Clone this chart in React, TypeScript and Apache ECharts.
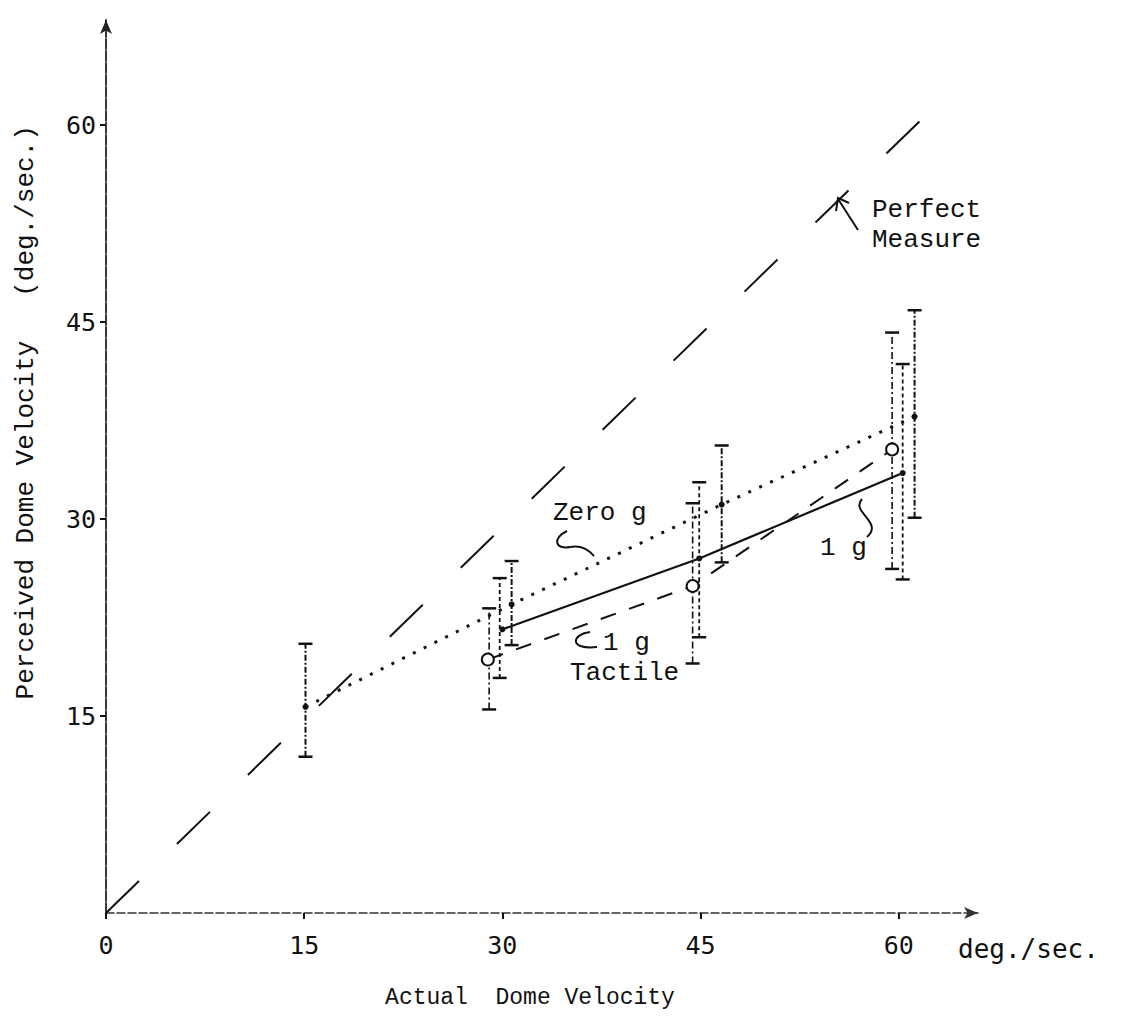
import React, { useEffect, useRef } from "react";
import * as echarts from "echarts";

// ---- data (deg./sec.) ----
const xTicks = [0, 15, 30, 45, 60];
const yTicks = [15, 30, 45, 60];

const perfectX = [0, 62];
const perfectY = [0, 60.7];

const zeroGX = [15.1, 30.7, 46.6, 61.2];
const zeroGY = [15.7, 23.5, 31.1, 37.8];
const zeroGLow = [11.9, 20.4, 26.7, 30.1];
const zeroGHigh = [20.5, 26.8, 35.6, 45.9];

const oneGX = [30.0, 44.9, 60.3];
const oneGY = [21.6, 27.0, 33.5];
const oneGBarX = [29.8, 44.9, 60.3];
const oneGLow = [17.9, 21.0, 25.4];
const oneGHigh = [25.5, 32.8, 41.8];

const tactileX = [28.9, 44.4, 59.5];
const tactileY = [19.3, 24.9, 35.3];
const tactileBarX = [29.0, 44.4, 59.5];
const tactileLow = [15.5, 19.0, 26.2];
const tactileHigh = [23.2, 31.2, 44.2];

const INK = "#111";
const TYPE_FONT = "'Liberation Mono', 'DejaVu Sans Mono', monospace";
const TICK_FONT = "'DejaVu Sans Mono', 'Liberation Mono', monospace";

function errorSeries(name: string, xs: number[], lo: number[], hi: number[], width: number, dash: number[] | null) {
  return {
    type: "custom",
    name,
    data: xs.map((x, i) => [x, lo[i], hi[i]]),
    encode: { x: 0, y: [1, 2] },
    z: 3,
    renderItem: (params: any, api: any) => {
      const x = api.value(0);
      const p1 = api.coord([x, api.value(1)]);
      const p2 = api.coord([x, api.value(2)]);
      const w = 7;
      const style: any = { stroke: INK, lineWidth: width, fill: null };
      if (dash) style.lineDash = dash;
      const cap = { stroke: INK, lineWidth: 2.5, fill: null };
      return {
        type: "group",
        children: [
          { type: "line", shape: { x1: p1[0], y1: p1[1], x2: p2[0], y2: p2[1] }, style },
          { type: "line", shape: { x1: p1[0] - w, y1: p1[1], x2: p1[0] + w, y2: p1[1] }, style: cap },
          { type: "line", shape: { x1: p2[0] - w, y1: p2[1], x2: p2[0] + w, y2: p2[1] }, style: cap },
        ],
      };
    },
  };
}

function typeText(text: string, x: number, y: number, size = 26, align = "left") {
  return {
    type: "text",
    x,
    y,
    style: { text, fill: INK, font: `${size}px ${TYPE_FONT}`, align, verticalAlign: "middle" },
  };
}

export default function App() {
  const ref = useRef<HTMLDivElement>(null);
  useEffect(() => {
    const chart = echarts.init(ref.current!, null, { renderer: "svg" });
    const option: any = {
      animation: false,
      backgroundColor: "#fff",
      grid: { left: 106, right: 143, top: 20, bottom: 122, containLabel: false },
      xAxis: {
        type: "value",
        min: 0,
        max: 66,
        interval: 15,
        splitLine: { show: false },
        axisLine: {
          show: true,
          onZero: false,
          symbol: ["none", "arrow"],
          symbolSize: [9, 14],
          lineStyle: { color: "#333", width: 1.5, type: [8, 3] },
        },
        axisTick: { show: true, length: 6, customValues: xTicks, lineStyle: { color: INK, width: 2 } },
        axisLabel: {
          customValues: xTicks,
          margin: 20,
          color: INK,
          fontFamily: TICK_FONT,
          fontSize: 25,
        },
      },
      yAxis: {
        type: "value",
        min: 0,
        max: 68,
        interval: 15,
        splitLine: { show: false },
        axisLine: {
          show: true,
          onZero: false,
          symbol: ["none", "arrow"],
          symbolSize: [9, 14],
          lineStyle: { color: "#222", width: 1.8, type: [10, 2] },
        },
        axisTick: { show: true, length: 6, customValues: yTicks, lineStyle: { color: INK, width: 2 } },
        axisLabel: {
          customValues: yTicks,
          margin: 10,
          color: INK,
          fontFamily: TICK_FONT,
          fontSize: 25,
          padding: [16, 0, 0, 0],
        },
      },
      series: [
        {
          type: "line",
          name: "Perfect Measure",
          data: perfectX.map((x, i) => [x, perfectY[i]]),
          symbol: "none",
          lineStyle: { color: INK, width: 2, type: [46, 53] },
          z: 1,
        },
        errorSeries("Zero g bars", zeroGX, zeroGLow, zeroGHigh, 2, [6, 2, 2, 2]),
        errorSeries("1 g bars", oneGBarX, oneGLow, oneGHigh, 1.8, [4, 3]),
        errorSeries("1 g Tactile bars", tactileBarX, tactileLow, tactileHigh, 1.6, [7, 3, 2, 3]),
        {
          type: "line",
          name: "Zero g",
          data: zeroGX.map((x, i) => [x, zeroGY[i]]),
          symbol: "circle",
          symbolSize: 6,
          itemStyle: { color: INK },
          lineStyle: { color: INK, width: 3, type: [3, 9] },
          z: 4,
        },
        {
          type: "line",
          name: "1 g",
          data: oneGX.map((x, i) => [x, oneGY[i]]),
          symbol: "circle",
          symbolSize: 6,
          itemStyle: { color: INK },
          lineStyle: { color: INK, width: 2.2, type: "solid" },
          z: 4,
        },
        {
          type: "line",
          name: "1 g Tactile",
          data: tactileX.map((x, i) => [x, tactileY[i]]),
          symbol: "emptyCircle",
          symbolSize: 12,
          itemStyle: { color: INK, borderWidth: 2.2 },
          lineStyle: { color: INK, width: 2, type: [16, 14] },
          z: 4,
        },
      ],
      graphic: [
        {
          type: "text",
          x: 958,
          y: 949,
          style: { text: "deg./sec.", fill: INK, font: `26px ${TICK_FONT}`, align: "left", verticalAlign: "middle" },
        },
        typeText("Actual  Dome Velocity", 530, 998, 23, "center"),
        {
          type: "text",
          x: 26,
          y: 520,
          rotation: Math.PI / 2,
          style: { text: "Perceived Dome Velocity", fill: INK, font: `26px ${TYPE_FONT}`, align: "center", verticalAlign: "middle" },
        },
        {
          type: "text",
          x: 26,
          y: 211,
          rotation: Math.PI / 2,
          style: { text: "(deg./sec.)", fill: INK, font: `26px ${TYPE_FONT}`, align: "center", verticalAlign: "middle" },
        },
        typeText("Perfect", 872, 210),
        typeText("Measure", 872, 240),
        {
          type: "line",
          shape: { x1: 858, y1: 230, x2: 838, y2: 199 },
          style: { stroke: INK, lineWidth: 2 },
        },
        {
          type: "polyline",
          shape: { points: [[836, 211], [838, 198], [849, 203]] },
          style: { stroke: INK, lineWidth: 2, fill: null },
        },
        typeText("Zero g", 553, 513),
        {
          type: "bezierCurve",
          shape: { x1: 567, y1: 531, cpx1: 552, cpy1: 538, cpx2: 555, cpy2: 550, x2: 570, y2: 547 },
          style: { stroke: INK, lineWidth: 2, fill: null },
        },
        {
          type: "bezierCurve",
          shape: { x1: 570, y1: 547, cpx1: 580, cpy1: 545, cpx2: 588, cpy2: 549, x2: 594, y2: 556 },
          style: { stroke: INK, lineWidth: 2, fill: null },
        },
        typeText("1 g", 603, 643),
        typeText("Tactile", 570, 673),
        {
          type: "bezierCurve",
          shape: { x1: 590, y1: 632, cpx1: 572, cpy1: 634, cpx2: 568, cpy2: 650, x2: 597, y2: 647 },
          style: { stroke: INK, lineWidth: 2, fill: null },
        },
        typeText("1 g", 820, 548),
        {
          type: "bezierCurve",
          shape: { x1: 862, y1: 499, cpx1: 850, cpy1: 512, cpx2: 884, cpy2: 522, x2: 867, y2: 537 },
          style: { stroke: INK, lineWidth: 2, fill: null },
        },
      ],
    };
    chart.setOption(option);
    return () => chart.dispose();
  }, []);
  return (
    <div
      ref={ref}
      style={{ width: 1121, height: 1035, position: "absolute", left: 0, top: 0, background: "#fff" }}
    />
  );
}
